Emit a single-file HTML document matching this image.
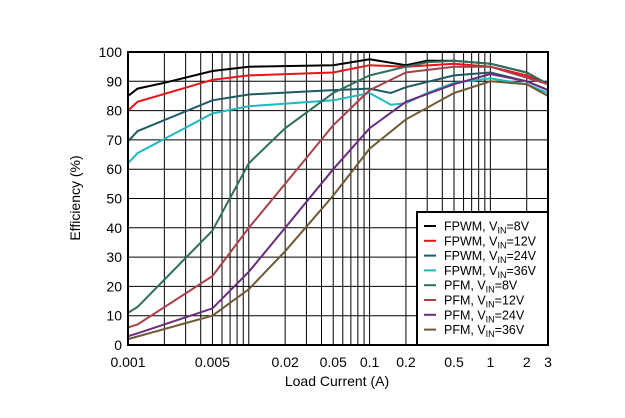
<!DOCTYPE html><html><head><style>body{margin:0;background:#fff}svg{display:block;font-family:"Liberation Sans",sans-serif}</style></head><body>
<svg id="s" width="625" height="418" xmlns="http://www.w3.org/2000/svg"></svg>
<script>
const s=document.getElementById('s');
const L=128,R=548,T=52,B=345,pd=(R-L)/Math.log10(3000);
const X=v=>L+Math.log10(v/0.001)*pd, Y=e=>B-(e/100)*(B-T);
let h='<rect x="0" y="0" width="625" height="418" fill="#fff"/>';
for(let e=10;e<100;e+=10)h+=`<line x1="${L}" x2="${R}" y1="${Y(e)}" y2="${Y(e)}" stroke="#000" stroke-width="1"/>`;
for(let d of [0.001,0.01,0.1,1])for(let k=1;k<=9;k++){const v=d*k;if(v>=3||v<=0.001)continue;h+=`<line x1="${X(v)}" x2="${X(v)}" y1="${T}" y2="${B}" stroke="#000" stroke-width="1"/>`;}
const S=[
['#000',[[.001,85],[.0012,87.5],[.002,89.5],[.005,93.5],[.01,95],[.05,95.5],[.1,97.5],[.2,95.5],[.3,97],[.5,97],[1,96],[2,93],[3,89]]],
['#e8141a',[[.001,80],[.0012,83],[.005,90.5],[.01,92],[.05,93],[.1,95.5],[.2,95],[.5,96],[1,95],[2,92],[3,89]]],
['#1c5a64',[[.001,69.5],[.0012,73],[.005,83.5],[.01,85.5],[.05,87],[.1,87.5],[.15,86],[.2,88],[.5,92],[1,93],[2,90],[3,87]]],
['#20b8c0',[[.001,62],[.0012,65.5],[.005,79],[.01,81.5],[.05,83.5],[.1,86],[.15,82],[.2,82.5],[.3,86],[.5,89.5],[1,91],[2,89],[3,86]]],
['#2e6e5e',[[.001,11],[.0012,13],[.005,39],[.01,62],[.02,74],[.05,86],[.1,92],[.2,95],[.3,96.5],[.5,97],[1,96],[2,93],[3,89]]],
['#a8404a',[[.001,6],[.0012,7],[.005,23.5],[.01,40],[.02,55],[.05,75],[.1,87],[.2,93],[.5,95],[1,95],[3,89]]],
['#6a2d7c',[[.001,3],[.0012,4],[.005,12.5],[.01,25],[.02,40],[.05,60],[.1,74],[.2,83],[.5,89],[1,92.5],[2,90],[3,87]]],
['#6e5a33',[[.001,2],[.005,10],[.01,19],[.02,32],[.05,51],[.1,67],[.2,77],[.5,86],[1,90],[2,89],[3,85]]]];
for(const [c,p] of S)h+=`<polyline fill="none" stroke="${c}" stroke-width="2" points="${p.map(q=>X(q[0]).toFixed(1)+','+Y(q[1]).toFixed(1)).join(' ')}"/>`;
h+=`<rect x="${L}" y="${T}" width="${R-L}" height="${B-T}" fill="none" stroke="#000" stroke-width="2"/>`;
h+=`<rect x="417" y="212" width="131" height="133" fill="#fff" stroke="#000" stroke-width="2"/>`;
const lab=[['FPWM','8V'],['FPWM','12V'],['FPWM','24V'],['FPWM','36V'],['PFM','8V'],['PFM','12V'],['PFM','24V'],['PFM','36V']];
lab.forEach((l,i)=>{const y=226+i*14.8;h+=`<line x1="424" x2="436" y1="${y}" y2="${y}" stroke="${S[i][0]}" stroke-width="2"/><text x="444" y="${y+4.5}" font-size="12.5">${l[0]}, V<tspan font-size="9" dy="3">IN</tspan><tspan dy="-3">=${l[1]}</tspan></text>`;});
for(let e=0;e<=100;e+=10)h+=`<text x="122" y="${Y(e)+5}" font-size="14" text-anchor="end">${e}</text>`;
for(const v of [0.001,0.005,0.02,0.05,0.1,0.2,0.5,1,2,3])h+=`<text x="${X(v)}" y="367" font-size="14" text-anchor="middle">${v}</text>`;
h+=`<text x="337" y="386" font-size="14" text-anchor="middle">Load Current (A)</text>`;
h+=`<text transform="translate(80,198) rotate(-90)" font-size="14" text-anchor="middle">Efficiency (%)</text>`;
s.innerHTML=h;
</script></body></html>
